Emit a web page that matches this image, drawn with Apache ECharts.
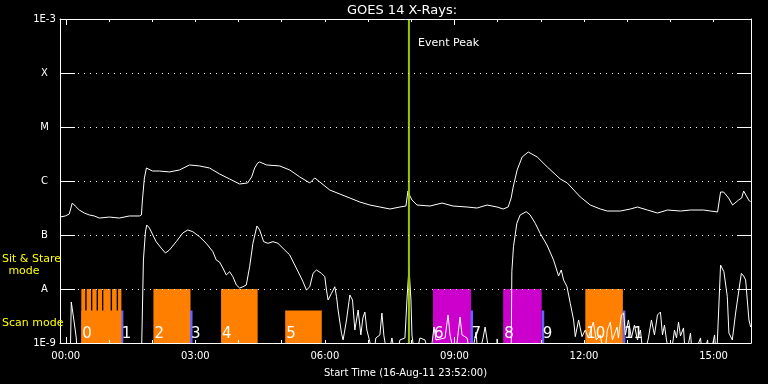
<!DOCTYPE html>
<html><head><meta charset="utf-8">
<script src="https://cdn.jsdelivr.net/npm/echarts@6/dist/echarts.min.js"></script>
<style>html,body{margin:0;padding:0;background:#000;} #c{width:768px;height:384px;}</style>
</head><body><div id="c"></div>
<script>
// ---- axes (hours relative to 17-Aug-11 00:00; start 16-Aug-11 23:52) ----
const xStart = -8 / 60;
const xEnd = 16 - 8 / 60;
const xLabelHours = [0, 3, 6, 9, 12, 15];
const xTickLabels = ['00:00', '03:00', '06:00', '09:00', '12:00', '15:00'];
const xMinorTickHours = [0, 1, 2, 3, 4, 5, 6, 7, 8, 9, 10, 11, 12, 13, 14, 15];
const xMajorTickHours = [0, 9];
const yTickExponents = [-9, -8, -7, -6, -5, -4, -3];
const yTickLabels = ['1E-9', 'A', 'B', 'C', 'M', 'X', '1E-3'];
const yMin = 1e-9, yMax = 1e-3;

// ---- GOES 14 long channel (1-8 A), W/m^2 ----
const longTimes = [-0.133, -0.012, 0.081, 0.151, 0.220, 0.313, 0.429, 0.545, 0.661, 0.777, 1.009, 1.241, 1.473, 1.705, 1.752, 1.775, 1.821, 1.868, 2.007, 2.169, 2.401, 2.633, 2.865, 3.097, 3.329, 3.561, 3.794, 4.026, 4.211, 4.304, 4.374, 4.443, 4.490, 4.652, 4.954, 5.186, 5.418, 5.650, 5.766, 5.882, 6.114, 6.346, 6.578, 6.810, 7.042, 7.274, 7.506, 7.738, 7.877, 7.923, 7.970, 8.016, 8.132, 8.434, 8.712, 8.967, 9.292, 9.524, 9.756, 9.988, 10.128, 10.244, 10.313, 10.360, 10.452, 10.568, 10.708, 10.917, 11.149, 11.450, 11.613, 11.914, 12.146, 12.378, 12.541, 12.842, 13.074, 13.237, 13.469, 13.701, 13.933, 14.234, 14.466, 14.768, 14.930, 15.093, 15.162, 15.232, 15.348, 15.441, 15.580, 15.650, 15.696, 15.742, 15.812, 15.858];
const longFlux = [2.15e-7, 2.25e-7, 2.45e-7, 3.91e-7, 3.44e-7, 2.90e-7, 2.55e-7, 2.35e-7, 2.25e-7, 2.06e-7, 2.15e-7, 2.06e-7, 2.25e-7, 2.25e-7, 2.35e-7, 4.45e-7, 1.14e-6, 1.74e-6, 1.53e-6, 1.53e-6, 1.47e-6, 1.60e-6, 1.98e-6, 1.90e-6, 1.74e-6, 1.35e-6, 1.09e-6, 8.8e-7, 9.2e-7, 1.19e-6, 1.74e-6, 2.15e-6, 2.25e-6, 1.98e-6, 1.90e-6, 1.60e-6, 1.19e-6, 9.2e-7, 1.14e-6, 9.6e-7, 6.8e-7, 5.74e-7, 4.84e-7, 4.08e-7, 3.59e-7, 3.30e-7, 3.03e-7, 3.30e-7, 3.44e-7, 6.53e-7, 5.27e-7, 4.45e-7, 3.59e-7, 3.44e-7, 3.91e-7, 3.44e-7, 3.30e-7, 3.16e-7, 3.59e-7, 3.30e-7, 3.03e-7, 3.30e-7, 4.84e-7, 7.74e-7, 1.60e-6, 2.78e-6, 3.44e-6, 2.78e-6, 1.82e-6, 1.09e-6, 9.2e-7, 5.06e-7, 3.59e-7, 3.03e-7, 2.78e-7, 2.78e-7, 3.03e-7, 3.30e-7, 2.90e-7, 2.55e-7, 2.90e-7, 2.78e-7, 2.90e-7, 2.90e-7, 2.78e-7, 2.67e-7, 6.25e-7, 6.25e-7, 4.84e-7, 3.59e-7, 4.45e-7, 4.84e-7, 6.53e-7, 6.0e-7, 4.45e-7, 4.08e-7];

// ---- GOES 14 short channel (0.5-4 A), W/m^2 (5e-10 = below plot floor) ----
const shortTimes = [-0.133, 0.104, 0.128, 0.162, 0.197, 0.244, 0.267, 1.752, 1.775, 1.798, 1.845, 1.875, 1.937, 2.093, 2.209, 2.309, 2.401, 2.557, 2.710, 2.826, 2.942, 3.097, 3.253, 3.406, 3.485, 3.561, 3.638, 3.717, 3.794, 3.870, 3.949, 4.026, 4.102, 4.181, 4.258, 4.334, 4.427, 4.490, 4.582, 4.682, 4.798, 4.914, 5.030, 5.186, 5.302, 5.418, 5.494, 5.573, 5.650, 5.726, 5.805, 5.921, 5.998, 6.037, 6.074, 6.153, 6.230, 6.269, 6.306, 6.385, 6.422, 6.501, 6.578, 6.640, 6.694, 6.770, 6.833, 6.879, 6.926, 6.972, 7.042, 7.111, 7.181, 7.274, 7.320, 7.367, 7.459, 7.552, 7.645, 7.738, 7.854, 7.900, 7.947, 7.993, 8.016, 8.086, 8.202, 8.318, 8.434, 8.527, 8.573, 8.782, 8.852, 8.898, 9.014, 9.130, 9.176, 9.292, 9.385, 9.501, 9.547, 9.664, 9.710, 9.756, 9.826, 9.965, 9.988, 10.035, 10.313, 10.329, 10.367, 10.445, 10.522, 10.661, 10.754, 10.870, 10.986, 11.142, 11.295, 11.411, 11.473, 11.527, 11.606, 11.682, 11.759, 11.798, 11.875, 11.954, 12.030, 12.100, 12.216, 12.285, 12.378, 12.471, 12.541, 12.610, 12.657, 12.766, 12.796, 12.865, 12.919, 12.958, 13.028, 13.097, 13.167, 13.237, 13.306, 13.376, 13.492, 13.561, 13.631, 13.701, 13.770, 13.817, 13.863, 13.910, 14.002, 14.095, 14.142, 14.188, 14.234, 14.304, 14.350, 14.466, 14.513, 14.698, 14.745, 14.861, 14.907, 15.023, 15.070, 15.116, 15.128, 15.162, 15.239, 15.318, 15.355, 15.434, 15.510, 15.587, 15.643, 15.696, 15.742, 15.819, 15.858];
const shortFlux = [5e-10, 5e-10, 5.74e-9, 6.25e-9, 2.35e-9, 1.24e-9, 5e-10, 5e-10, 5e-10, 3.44e-8, 1.14e-7, 1.53e-7, 1.35e-7, 7.52e-8, 5.74e-8, 4.64e-8, 5.27e-8, 7.52e-8, 1.09e-7, 1.24e-7, 1.15e-7, 9.3e-8, 7.02e-8, 4.91e-8, 3.44e-8, 3.16e-8, 2.45e-8, 1.82e-8, 2.09e-8, 1.69e-8, 1.19e-8, 1.04e-8, 1.10e-8, 1.19e-8, 2.59e-8, 7.02e-8, 1.47e-7, 1.24e-7, 7.52e-8, 7.02e-8, 7.52e-8, 7.02e-8, 5.67e-8, 4.27e-8, 2.78e-8, 1.82e-8, 1.36e-8, 9.57e-9, 1.10e-8, 1.95e-8, 2.25e-8, 1.95e-8, 1.69e-8, 9.57e-9, 6.25e-9, 8.32e-9, 1.10e-8, 7.2e-9, 4.08e-9, 1.51e-9, 1.14e-9, 2.67e-9, 7.74e-9, 6.25e-9, 1.74e-9, 4.08e-9, 1.41e-9, 2.90e-9, 3.75e-9, 1.74e-9, 1.04e-9, 5e-10, 1.24e-9, 1.41e-9, 3.59e-9, 1.35e-9, 5e-10, 1.24e-9, 5e-10, 1.14e-9, 1.24e-9, 6.25e-9, 2.45e-8, 6.25e-9, 1.41e-9, 5e-10, 1.24e-9, 1.14e-9, 5e-10, 1.98e-9, 1.14e-9, 1.24e-9, 3.30e-9, 1.41e-9, 5e-10, 3.03e-9, 1.41e-9, 1.24e-9, 5e-10, 1.60e-9, 5e-10, 1.24e-9, 1.98e-9, 1.14e-9, 5e-10, 5e-10, 1.19e-9, 5e-10, 5e-10, 2.09e-8, 6.07e-8, 1.65e-7, 2.35e-7, 2.70e-7, 2.35e-7, 1.65e-7, 1.07e-7, 6.53e-8, 3.44e-8, 1.74e-8, 2.25e-8, 1.47e-8, 1.10e-8, 5.43e-9, 2.67e-9, 1.31e-9, 2.67e-9, 1.31e-9, 1.74e-9, 1.24e-9, 2.45e-9, 1.14e-9, 1.41e-9, 5e-10, 1.74e-9, 2.45e-9, 1.14e-9, 1.98e-9, 1.24e-9, 3.30e-9, 3.59e-9, 1.41e-9, 2.67e-9, 1.24e-9, 2.15e-9, 1.14e-9, 1.74e-9, 5e-10, 1.24e-9, 2.67e-9, 1.41e-9, 3.30e-9, 3.75e-9, 1.41e-9, 2.15e-9, 1.14e-9, 5e-10, 1.74e-9, 1.24e-9, 2.45e-9, 1.35e-9, 1.90e-9, 5e-10, 1.53e-9, 5e-10, 1.24e-9, 5e-10, 1.14e-9, 5e-10, 1.41e-9, 5e-10, 5e-10, 6.25e-9, 2.78e-8, 2.09e-8, 7.2e-9, 1.53e-9, 1.14e-9, 3.59e-9, 9.57e-9, 1.95e-8, 1.74e-8, 1.47e-8, 2.67e-9, 1.98e-9];

// ---- observation blocks (hours) ----
const obsLabels = ['0', '1', '2', '3', '4', '5', '6', '7', '8', '9', '10', '11'];
const obsStart = [0.360, 1.276, 2.030, 2.877, 3.596, 5.081, 8.503, 9.373, 10.128, 11.021, 12.030, 12.900];
const obsEnd   = [1.288, 1.334, 2.889, 2.935, 4.443, 5.928, 9.385, 9.432, 11.021, 11.079, 12.900, 12.958];
const obsTop   = [4e-9, 4e-9, 1e-8, 4e-9, 1e-8, 4e-9, 1e-8, 4e-9, 1e-8, 4e-9, 1e-8, 4e-9];
const obsKind  = ['orange', 'blue', 'orange', 'blue', 'orange', 'orange', 'magenta', 'blue', 'magenta', 'blue', 'orange', 'blue'];
const sitStareStart = [0.360, 0.483, 0.615, 0.747, 0.870, 1.072, 1.211];
const sitStareEnd   = [0.452, 0.585, 0.715, 0.840, 1.039, 1.179, 1.288];
const sitStareTop = 1e-8;
const eventPeakHour = 7.946;

const kindColor = { orange: '#ff8000', blue: '#6464ff', magenta: '#cc00cc' };
const FONT = 'DejaVu Sans';

function rectItem(api, s, e, top, fill) {
  const p0 = api.coord([s, top]);
  const p1 = api.coord([e, yMin]);
  return { type: 'rect', shape: { x: p0[0], y: p0[1], width: p1[0] - p0[0], height: p1[1] - p0[1] }, style: { fill: fill } };
}

const obsData = obsStart.map((s, i) => [s, obsEnd[i], obsTop[i]]);
const ssData = sitStareStart.map((s, i) => [s, sitStareEnd[i], sitStareTop]);

const chart = echarts.init(document.getElementById('c'), null, { renderer: 'canvas' });

const baseX = { type: 'value', min: xStart, max: xEnd, splitLine: { show: false }, z: 6 };
const option = {
  backgroundColor: '#000',
  animation: false,
  grid: { left: 60, right: 17, top: 19, bottom: 41, containLabel: false },
  graphic: [
    { type: 'text', z: 100, style: { x: 402, y: 11, text: 'GOES 14 X-Rays:', fill: '#fff', font: '13px ' + FONT, align: 'center', verticalAlign: 'middle' } },
    { type: 'text', z: 100, style: { x: 2, y: 259, text: 'Sit & Stare', fill: '#ffff00', font: '11px ' + FONT, align: 'left', verticalAlign: 'middle' } },
    { type: 'text', z: 100, style: { x: 24, y: 271, text: 'mode', fill: '#ffff00', font: '11px ' + FONT, align: 'center', verticalAlign: 'middle' } },
    { type: 'text', z: 100, style: { x: 2, y: 323, text: 'Scan mode', fill: '#ffff00', font: '11px ' + FONT, align: 'left', verticalAlign: 'middle' } }
  ],
  xAxis: [
    Object.assign({}, baseX, {
      position: 'bottom',
      axisLine: { show: true, onZero: false, lineStyle: { color: '#fff', width: 1 } },
      axisTick: { show: true, inside: true, length: 3, customValues: xMinorTickHours, lineStyle: { color: '#fff' } },
      axisLabel: { show: true, customValues: xLabelHours, color: '#fff', fontSize: 10, fontFamily: FONT, margin: 8,
        formatter: v => { const i = xLabelHours.indexOf(Math.round(v)); return i >= 0 ? xTickLabels[i] : ''; } },
      name: 'Start Time (16-Aug-11 23:52:00)', nameLocation: 'middle', nameGap: 25,
      nameTextStyle: { color: '#fff', fontSize: 10, fontFamily: FONT }
    }),
    Object.assign({}, baseX, {
      position: 'bottom', axisLine: { show: false, onZero: false },
      axisTick: { show: true, inside: true, length: 6, customValues: xMajorTickHours, lineStyle: { color: '#fff' } },
      axisLabel: { show: false }
    }),
    Object.assign({}, baseX, {
      position: 'top', axisLine: { show: true, onZero: false, lineStyle: { color: '#fff', width: 1 } },
      axisTick: { show: true, inside: true, length: 3, customValues: xMinorTickHours, lineStyle: { color: '#fff' } },
      axisLabel: { show: false }
    }),
    Object.assign({}, baseX, {
      position: 'top', axisLine: { show: false, onZero: false },
      axisTick: { show: true, inside: true, length: 6, customValues: xMajorTickHours, lineStyle: { color: '#fff' } },
      axisLabel: { show: false }
    })
  ],
  yAxis: [
    { type: 'log', logBase: 10, min: yMin, max: yMax, position: 'left', z: 6, splitNumber: 6,
      axisLine: { show: true, onZero: false, lineStyle: { color: '#fff', width: 1 } },
      axisTick: { show: true, inside: true, length: 15, lineStyle: { color: '#fff' } },
      axisLabel: { show: true, color: '#fff', fontSize: 10, fontFamily: FONT, margin: 15.5, align: 'center',
        formatter: v => { const e = (v > 0 && v < 1) ? Math.round(Math.log10(v)) : Math.round(v); const i = yTickExponents.indexOf(e); return i >= 0 ? yTickLabels[i] : ''; } },
      splitLine: { show: true, lineStyle: { color: '#fff', width: 1, type: [1, 5] } }
    },
    { type: 'log', logBase: 10, min: yMin, max: yMax, position: 'right', z: 6, splitNumber: 6,
      axisLine: { show: true, onZero: false, lineStyle: { color: '#fff', width: 1 } },
      axisTick: { show: true, inside: true, length: 14, lineStyle: { color: '#fff' } },
      axisLabel: { show: false }, splitLine: { show: false }
    }
  ],
  series: [
    { type: 'custom', name: 'observations', xAxisIndex: 0, yAxisIndex: 0, z: 1, silent: true,
      encode: { x: [0, 1], y: 2 }, data: obsData,
      renderItem: (params, api) => rectItem(api, api.value(0), api.value(1), api.value(2), kindColor[obsKind[params.dataIndex]]) },
    { type: 'custom', name: 'sitstare', xAxisIndex: 0, yAxisIndex: 0, z: 1, silent: true,
      encode: { x: [0, 1], y: 2 }, data: ssData,
      renderItem: (params, api) => rectItem(api, api.value(0), api.value(1), api.value(2), kindColor.orange) },
    { type: 'line', name: 'long', xAxisIndex: 0, yAxisIndex: 0, z: 3, showSymbol: false, symbol: 'none', clip: true,
      lineStyle: { color: '#fff', width: 1 }, data: longTimes.map((t, i) => [t, longFlux[i]]) },
    { type: 'line', name: 'short', xAxisIndex: 0, yAxisIndex: 0, z: 3, showSymbol: false, symbol: 'none', clip: true,
      lineStyle: { color: '#fff', width: 1 }, data: shortTimes.map((t, i) => [t, shortFlux[i]]) },
    { type: 'custom', name: 'obsLabels', xAxisIndex: 0, yAxisIndex: 0, z: 4, silent: true,
      encode: { x: 0, y: 1 }, data: obsStart.map(s => [s, yMin]),
      renderItem: (params, api) => {
        const p = api.coord([api.value(0), api.value(1)]);
        return { type: 'text', style: { x: p[0] + 1, y: p[1] - 1, text: obsLabels[params.dataIndex], fill: '#fff', font: '15px ' + FONT, align: 'left', verticalAlign: 'bottom' } };
      } },
    { type: 'custom', name: 'eventPeak', xAxisIndex: 0, yAxisIndex: 0, z: 5, silent: true,
      encode: { x: 0 }, data: [[eventPeakHour, yMax]],
      renderItem: (params, api) => {
        const pTop = api.coord([api.value(0), yMax]);
        const pBot = api.coord([api.value(0), yMin]);
        return { type: 'group', children: [
          { type: 'line', shape: { x1: pTop[0], y1: pTop[1], x2: pBot[0], y2: pBot[1] }, style: { stroke: '#96c800', lineWidth: 2 } },
          { type: 'text', style: { x: pTop[0] + 9, y: pTop[1] + 24, text: 'Event Peak', fill: '#fff', font: '11px ' + FONT, align: 'left', verticalAlign: 'middle' } }
        ] };
      } }
  ]
};
chart.setOption(option);
</script>
</body></html>
